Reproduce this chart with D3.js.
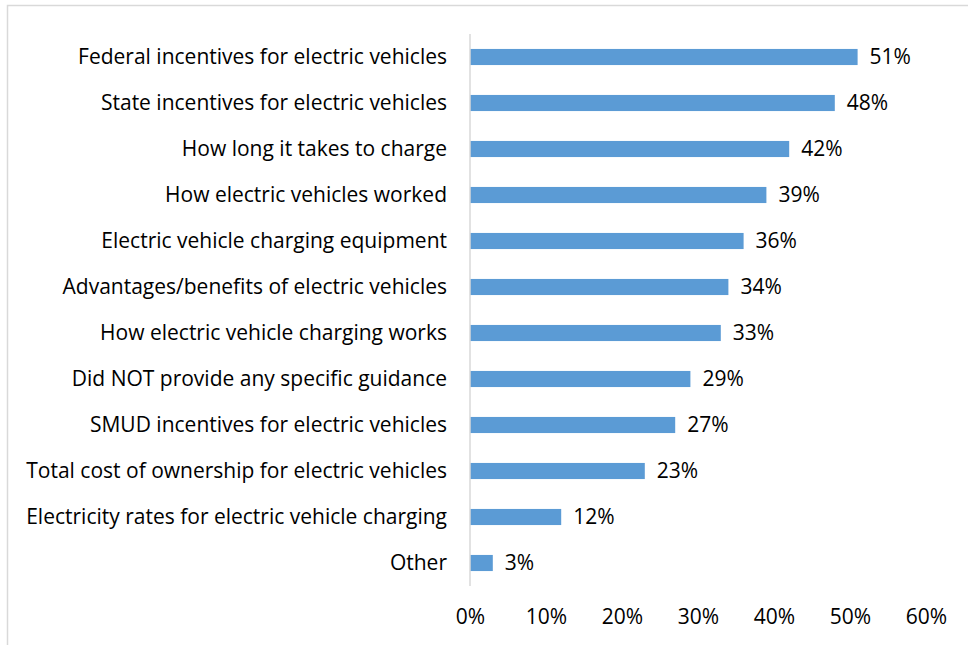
<!DOCTYPE html>
<html>
<head>
<meta charset="utf-8">
<script src="https://cdn.jsdelivr.net/npm/d3@7"></script>
<style>
  body { margin: 0; background: #fff; }
  text { font-family: "Open Sans", sans-serif; fill: #000; }
</style>
</head>
<body>
<svg width="968" height="645"></svg>
<script>
var categories = [
  "Federal incentives for electric vehicles",
  "State incentives for electric vehicles",
  "How long it takes to charge",
  "How electric vehicles worked",
  "Electric vehicle charging equipment",
  "Advantages/benefits of electric vehicles",
  "How electric vehicle charging works",
  "Did NOT provide any specific guidance",
  "SMUD incentives for electric vehicles",
  "Total cost of ownership for electric vehicles",
  "Electricity rates for electric vehicle charging",
  "Other"
];
var values = [51, 48, 42, 39, 36, 34, 33, 29, 27, 23, 12, 3];
var tickValues = [0, 10, 20, 30, 40, 50, 60];

var svg = d3.select("svg");
var fontSize = "21px";

// chart frame
svg.append("rect")
    .attr("x", 7.5).attr("y", 5.5)
    .attr("width", 980).attr("height", 660)
    .attr("fill", "none")
    .attr("stroke", "#d9d9d9")
    .attr("stroke-width", 1.5);

var x = d3.scaleLinear().domain([0, 60]).range([470, 926]),
    y = d3.scaleBand().domain(categories).range([34, 586]).paddingInner(0.65).paddingOuter(0.325);

var data = categories.map(function(c, i) { return {cat: c, val: values[i]}; });

svg.selectAll(".bar")
  .data(data)
  .enter().append("rect")
    .attr("class", "bar")
    .attr("x", x(0))
    .attr("y", function(d) { return y(d.cat); })
    .attr("width", function(d) { return x(d.val) - x(0); })
    .attr("height", y.bandwidth())
    .attr("fill", "#5b9bd5");

// vertical axis line
svg.append("line")
    .attr("x1", x(0)).attr("x2", x(0))
    .attr("y1", 34).attr("y2", 586)
    .attr("stroke", "#d9d9d9")
    .attr("stroke-width", 1.5);

// category labels
svg.selectAll(".cat")
  .data(data)
  .enter().append("text")
    .attr("class", "cat")
    .attr("x", 447)
    .attr("y", function(d) { return y(d.cat) + y.bandwidth() / 2; })
    .attr("dy", "0.35em")
    .attr("text-anchor", "end")
    .style("font-size", fontSize)
    .text(function(d) { return d.cat; });

// value labels
svg.selectAll(".val")
  .data(data)
  .enter().append("text")
    .attr("class", "val")
    .attr("x", function(d) { return x(d.val) + 12; })
    .attr("y", function(d) { return y(d.cat) + y.bandwidth() / 2; })
    .attr("dy", "0.35em")
    .style("font-size", fontSize)
    .text(function(d) { return d.val + "%"; });

// x axis tick labels
var xAxis = svg.append("g")
    .attr("transform", "translate(0,603)")
    .call(d3.axisBottom(x).tickValues(tickValues).tickFormat(function(d) { return d + "%"; }).tickSize(0).tickPadding(6));
xAxis.select(".domain").remove();
xAxis.selectAll("text")
    .style("font-size", fontSize)
    .style("font-family", "'Open Sans', sans-serif")
    .attr("fill", "#000");
</script>
</body>
</html>
